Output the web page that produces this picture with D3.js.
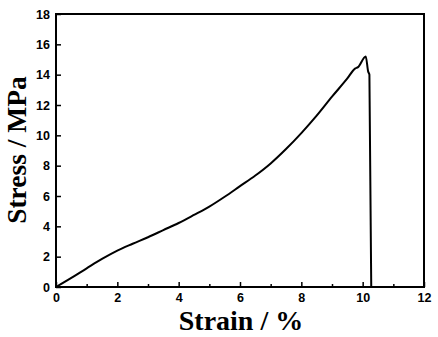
<!DOCTYPE html>
<html lang="en">
<head>
<meta charset="UTF-8">
<title>Stress-strain</title>
<script src="https://cdn.jsdelivr.net/npm/d3@7"></script>
<style>
  body { margin: 0; background: #fff; }
  .title { font-family: "Liberation Serif", "Times New Roman", serif; font-weight: bold; }
</style>
</head>
<body>
<svg width="438" height="337"></svg>
<script>
// strain (%) and stress (MPa)
var strain = [0, 0.5, 1, 1.5, 2, 2.5, 3, 3.5, 4, 4.5, 5, 5.5, 6, 6.5, 7, 7.5, 8, 8.5, 9, 9.5, 9.75, 9.85, 10.1, 10.18, 10.22, 10.28];
var stress = [0, 0.6, 1.23, 1.85, 2.4, 2.85, 3.28, 3.75, 4.22, 4.75, 5.3, 5.95, 6.65, 7.35, 8.15, 9.1, 10.15, 11.3, 12.55, 13.75, 14.4, 14.5, 15.2, 14.2, 14.0, 0];
var xTicks = [0, 2, 4, 6, 8, 10, 12];
var xMinor = [1, 3, 5, 7, 9, 11];
var yTicks = [0, 2, 4, 6, 8, 10, 12, 14, 16, 18];

var svg = d3.select("svg");
var pl = 56, pr = 424, pt = 14, pb = 287;

var x = d3.scaleLinear().domain([0, 12]).range([pl, pr]);
var y = d3.scaleLinear().domain([0, 18]).range([pb, pt]);

function styleAxis(g) {
    g.select(".domain").remove();
    g.selectAll("line").attr("stroke-width", 1.5);
    g.selectAll("text")
        .attr("font-family", "'Liberation Sans', Arial, sans-serif")
        .attr("font-weight", "bold")
        .attr("font-size", 12.5);
}

// frame
svg.append("rect")
    .attr("x", pl).attr("y", pt)
    .attr("width", pr - pl).attr("height", pb - pt)
    .attr("fill", "none").attr("stroke", "#000").attr("stroke-width", 2);

// x axis
svg.append("g").attr("transform", "translate(0," + pb + ")")
    .call(d3.axisBottom(x).tickValues(xTicks).tickSizeInner(-5).tickSizeOuter(0).tickPadding(6))
    .call(styleAxis);

svg.append("g").attr("transform", "translate(0," + pb + ")")
    .call(d3.axisBottom(x).tickValues(xMinor).tickSizeInner(-3).tickSizeOuter(0).tickFormat(""))
    .call(styleAxis);

// y axis
svg.append("g").attr("transform", "translate(" + pl + ",0)")
    .call(d3.axisLeft(y).tickValues(yTicks).tickSizeInner(-5).tickSizeOuter(0).tickPadding(6))
    .call(styleAxis);

// curve
var pts = strain.map(function(d, i) { return [d, stress[i]]; });
svg.append("path")
    .datum(pts)
    .attr("fill", "none")
    .attr("stroke", "#000")
    .attr("stroke-width", 2)
    .attr("stroke-linejoin", "round")
    .attr("d", d3.line().curve(d3.curveMonotoneX)
        .x(function(d) { return x(d[0]); })
        .y(function(d) { return y(d[1]); }));

// titles
svg.append("text").attr("class", "title")
    .attr("x", 241).attr("y", 330)
    .attr("font-size", 28)
    .attr("text-anchor", "middle")
    .text("Strain / %");

svg.append("text").attr("class", "title")
    .attr("transform", "translate(26,150) rotate(-90)")
    .attr("font-size", 27.5)
    .attr("text-anchor", "middle")
    .text("Stress / MPa");
</script>
</body>
</html>
